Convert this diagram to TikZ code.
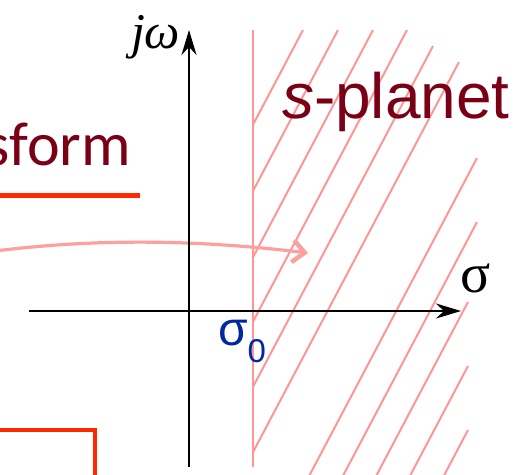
\documentclass[tikz,border=0pt]{standalone}
\usepackage{fontspec}
\setmainfont{Liberation Sans}
\newfontfamily\calib{Carlito}
\newfontfamily\serifit{Liberation Serif}
\usetikzlibrary{arrows.meta}
\definecolor{txtred}{RGB}{122,0,22}
\definecolor{hatchpink}{RGB}{255,150,150}
\definecolor{arrpink}{RGB}{255,160,160}
\definecolor{brightred}{RGB}{255,40,0}
\definecolor{sigblue}{RGB}{0,40,160}
\begin{document}
\begin{tikzpicture}[x=1pt,y=-1pt,
  axis/.style={line width=2.2pt, black, -{Stealth[length=25pt,width=15pt,inset=8pt]}},
  hatchline/.style={line width=2pt, hatchpink},
  redline/.style={line width=4.5pt, brightred},
  lbl/.style={inner sep=0pt, outer sep=0pt}]
\useasboundingbox (0,0) rectangle (524,474);
% hatching
\begin{scope}
\clip (253,0) rectangle (530,480);
\foreach \xt/\yt in {303/30,338/30,373/30,407/30,433/46,459/62,477/158,477/222,468/302,468/366,468/430}
  \draw[hatchline] (\xt,\yt) -- ++({-0.528*(480-\yt)},{480-\yt});
\end{scope}
% boundary line
\coordinate (pt) at (253,30);
\coordinate (pb) at (253,467);
\draw[hatchline] (pt) -- (pb);
% curved arrow
\coordinate (ca) at (-5,251);
\coordinate (cb) at (308,253);
\draw[line width=3.2pt, arrpink, -{Straight Barb[length=12pt,width=22pt,line width=4.5pt]}] (ca) .. controls (100,238) and (200,240) .. (cb);
% red decorations
\coordinate (ua) at (-3,195.5);
\coordinate (ub) at (140,195.5);
\draw[redline] (ua) -- (ub);
\coordinate (ra) at (-3,430);
\coordinate (rb) at (95,430);
\coordinate (rc) at (95,480);
\draw[redline] (ra) -- (rb) -- (rc);
% axes
\coordinate (xl) at (29,311);
\coordinate (xr) at (461,311);
\draw[axis] (xl) -- (xr);
\coordinate (yb) at (189,467);
\coordinate (yt) at (189,30);
\draw[axis] (yb) -- (yt);
% labels
\node[lbl, anchor=base west, text=black] (jw) at (131,48) {\fontsize{50}{50}\serifit\itshape jω};
\node[lbl, anchor=base west, text=black] (sig) at (460,292) {\fontsize{56}{56}\serifit σ};
\node[lbl, anchor=base west, text=sigblue] (s0) at (218,345) {\fontsize{48}{48}\selectfont σ\raisebox{-17pt}{\fontsize{33}{33}\selectfont 0}};
\node[lbl, anchor=base west, text=txtred] (sp) at (282,118) {\fontsize{64}{64}\selectfont\textit{s}-planet};
\node[lbl, anchor=base east, text=txtred] (sf) at (131,165) {\fontsize{62}{62}\calib sform};
\end{tikzpicture}
\end{document}
